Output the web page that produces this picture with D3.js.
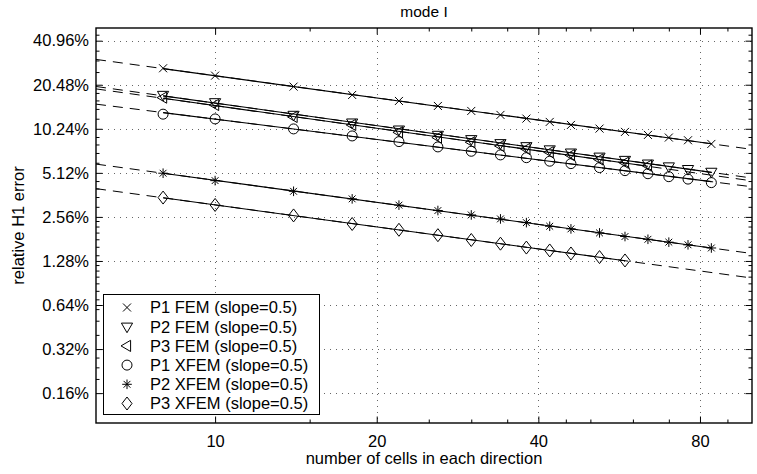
<!DOCTYPE html>
<html><head><meta charset="utf-8">
<script src="https://cdn.jsdelivr.net/npm/d3@7"></script>
<style>body{margin:0;background:#fff} svg text{font-family:"Liberation Sans",Arial,Helvetica,sans-serif;fill:#000}</style>
</head><body><svg id="c" width="757" height="474"></svg>
<script>
// ---- data (relative H1 error in %) ----
const cells  = [8,10,14,18,22,26,30,34,38,42,46,52,58,64,70,76,84];
const p1FEM  = [26.53,23.63,19.88,17.44,15.87,14.67,13.56,12.74,12.02,11.41,10.88,10.27,9.75,9.30,8.92,8.55,8.07];
const p2FEM  = [17.44,15.54,12.74,11.29,10.11,9.30,8.69,8.16,7.78,7.40,7.04,6.60,6.27,5.92,5.66,5.43,5.20];
const p3FEM  = [16.72,14.90,12.34,10.88,9.69,8.92,8.29,7.82,7.46,7.08,6.76,6.32,6.00,5.73];
const p1XFEM = [12.89,11.96,10.22,9.15,8.37,7.70,7.19,6.79,6.50,6.15,5.92,5.56,5.30,5.05,4.82,4.64,4.39];
const p2XFEM = [5.09,4.53,3.83,3.40,3.08,2.83,2.64,2.48,2.34,2.21,2.12,1.99,1.88,1.80,1.72,1.65,1.57];
const p3XFEM = [3.47,3.09,2.62,2.29,2.09,1.92,1.78,1.68,1.58,1.51,1.44,1.36,1.29];
const seriesNames = ["P1 FEM (slope=0.5)","P2 FEM (slope=0.5)","P3 FEM (slope=0.5)","P1 XFEM (slope=0.5)","P2 XFEM (slope=0.5)","P3 XFEM (slope=0.5)"];
const seriesMarkers = ["x","v","<","o","*","d"];
const seriesValues = [p1FEM,p2FEM,p3FEM,p1XFEM,p2XFEM,p3XFEM];
const xTicks = [10,20,40,80];
const xMinorTicks = [15,25,30,35,45,50,60,70,90];
const yTicks = [0.16,0.32,0.64,1.28,2.56,5.12,10.24,20.48,40.96];
const yTickLabels = ["0.16%","0.32%","0.64%","1.28%","2.56%","5.12%","10.24%","20.48%","40.96%"];
const yMinorTicks = [0.2,0.24,0.28,0.4,0.5,0.6,0.7,0.8,0.9,1.0,1.1,1.2,1.4,1.6,1.8,2.0,2.2,2.4,3,3.5,4,4.5,6,7,8,9,12,14,16,18,25,30,35,45];
const titleText = "mode I";
const xLabel = "number of cells in each direction";
const yLabel = "relative H1 error";

// ---- layout ----
const L=96, T=28, R=752, B=423;
const FS = 16.5;
const svg = d3.select("#c");
const x = d3.scaleLog().domain([6,100]).range([L,R]);
const y = d3.scaleLog().domain([0.1,50]).range([B,T]);

svg.append("defs").append("clipPath").attr("id","clip")
  .append("rect").attr("x",L).attr("y",T).attr("width",R-L).attr("height",B-T);

// grid
const grid = svg.append("g").attr("stroke","#666").attr("stroke-width",1).attr("stroke-dasharray","1,5");
grid.selectAll(".gx").data(xTicks).join("line")
  .attr("x1",d=>Math.round(x(d))+0.5).attr("x2",d=>Math.round(x(d))+0.5).attr("y1",T).attr("y2",B);
grid.selectAll(".gy").data(yTicks).join("line")
  .attr("y1",d=>Math.round(y(d))+0.5).attr("y2",d=>Math.round(y(d))+0.5).attr("x1",L).attr("x2",R);

// axes with ticks on all four sides
function addAxis(axis, tr){
  const g = svg.append("g").attr("transform",tr).call(axis);
  g.select(".domain").remove();
  g.selectAll("line").attr("stroke","#000");
  return g;
}
const fmtX = d3.format("d");
addAxis(d3.axisBottom(x).tickValues(xTicks).tickFormat(fmtX).tickSizeInner(-6.5).tickSizeOuter(0).tickPadding(12), `translate(0,${B})`)
  .selectAll("text").attr("font-size",FS);
addAxis(d3.axisBottom(x).tickValues(xMinorTicks).tickFormat("").tickSizeInner(-3.5).tickSizeOuter(0), `translate(0,${B})`);
addAxis(d3.axisTop(x).tickValues(xTicks).tickFormat("").tickSizeInner(-6.5).tickSizeOuter(0), `translate(0,${T})`);
addAxis(d3.axisTop(x).tickValues(xMinorTicks).tickFormat("").tickSizeInner(-3.5).tickSizeOuter(0), `translate(0,${T})`);
addAxis(d3.axisLeft(y).tickValues(yTicks).tickFormat((d,i)=>yTickLabels[i]).tickSizeInner(-6.5).tickSizeOuter(0).tickPadding(7), `translate(${L},0)`)
  .selectAll("text").attr("font-size",FS);
addAxis(d3.axisLeft(y).tickValues(yMinorTicks).tickFormat("").tickSizeInner(-3.5).tickSizeOuter(0), `translate(${L},0)`);
addAxis(d3.axisRight(y).tickValues(yTicks).tickFormat("").tickSizeInner(-6.5).tickSizeOuter(0), `translate(${R},0)`);
addAxis(d3.axisRight(y).tickValues(yMinorTicks).tickFormat("").tickSizeInner(-3.5).tickSizeOuter(0), `translate(${R},0)`);
svg.selectAll(".tick text").attr("fill","#000").attr("font-family",'"Liberation Sans",Arial,sans-serif');

// box
svg.append("rect").attr("x",L).attr("y",T).attr("width",R-L).attr("height",B-T)
  .attr("fill","none").attr("stroke","#000").attr("stroke-width",1.4);

// marker paths
function markerPath(t){
  switch(t){
    case "x": return "M-4,-4L4,4M-4,4L4,-4";
    case "v": return "M-5.6,-3.6L5.6,-3.6L0,6Z";
    case "<": return "M-6,0L3.6,-5.6L3.6,5.6Z";
    case "o": return "M5,0A5,5 0 1,1 -5,0A5,5 0 1,1 5,0Z";
    case "*": return "M-4.8,0L4.8,0M0,-4.8L0,4.8M-3.4,-3.4L3.4,3.4M-3.4,3.4L3.4,-3.4";
    case "d": return "M0,-6.5L5,0L0,6.5L-5,0Z";
  }
}

// fitted lines (least squares in log-log) + markers
const plot = svg.append("g").attr("clip-path","url(#clip)");
const line = d3.line().x(d=>x(d[0])).y(d=>y(d[1]));
seriesValues.forEach((vals,si)=>{
  const xs = cells.slice(0, vals.length);
  const lx = xs.map(Math.log), ly = vals.map(Math.log);
  const mx = d3.mean(lx), my = d3.mean(ly);
  const b = d3.sum(lx.map((v,i)=>(v-mx)*(ly[i]-my))) / d3.sum(lx.map(v=>(v-mx)*(v-mx)));
  const a = my - b*mx;
  const f = xv => Math.exp(a + b*Math.log(xv));
  const xd = x.domain();
  plot.append("path").attr("d", line([[xd[0],f(xd[0])],[xd[1],f(xd[1])]]))
    .attr("fill","none").attr("stroke","#000").attr("stroke-width",1).attr("stroke-dasharray","10,7");
  const x0 = d3.min(xs), x1 = d3.max(xs);
  plot.append("path").attr("d", line([[x0,f(x0)],[x1,f(x1)]]))
    .attr("fill","none").attr("stroke","#000").attr("stroke-width",1.1);
  plot.append("g").selectAll("path").data(vals).join("path")
    .attr("transform",(d,i)=>`translate(${x(xs[i])},${y(d)})`)
    .attr("d", markerPath(seriesMarkers[si]))
    .attr("fill","none").attr("stroke","#000").attr("stroke-width",1);
});

// legend
const lg = svg.append("g");
lg.append("rect").attr("x",103.5).attr("y",294.5).attr("width",216).attr("height",120)
  .attr("fill","#fff").attr("stroke","#000").attr("stroke-width",1);
seriesNames.forEach((n,i)=>{
  const yy = 307.5 + i*19.2;
  lg.append("path").attr("transform",`translate(127,${yy})`).attr("d",markerPath(seriesMarkers[i]))
    .attr("fill","none").attr("stroke","#000");
  lg.append("text").attr("x",150).attr("y",yy).attr("dy","0.36em").attr("font-size",FS).text(n);
});

// titles
svg.append("text").attr("x",(L+R)/2).attr("y",17).attr("text-anchor","middle").attr("font-size",15.5).text(titleText);
svg.append("text").attr("x",(L+R)/2).attr("y",464).attr("text-anchor","middle").attr("font-size",FS).text(xLabel);
svg.append("text").attr("transform",`translate(24,${(T+B)/2}) rotate(-90)`).attr("text-anchor","middle").attr("font-size",FS).text(yLabel);
</script></body></html>
